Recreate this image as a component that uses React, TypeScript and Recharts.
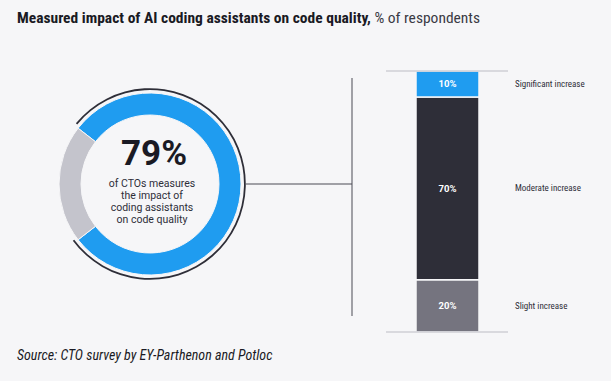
import React from "react";
import { PieChart, Pie, Cell, BarChart, Bar, XAxis, YAxis, LabelList, ReferenceLine } from "recharts";

const donutNames = ["Measure impact", "Do not measure"];
const donutValues = [79, 21];
const donutColors = ["#1f9cf0", "#c4c4cc"];
const outlineColors = ["#2e2e38", "none"];

const segmentKeys = ["slight", "moderate", "significant"];
const segmentLabels = ["Slight increase", "Moderate increase", "Significant increase"];
const segmentValues = [20, 70, 10];
const segmentColors = ["#75747f", "#2e2e38", "#1f9cf0"];

const BG = "#f6f6f8";
const NARROW = "'Liberation Sans Narrow', 'Roboto Condensed', Roboto, sans-serif";
const WIDE = "Roboto, 'Noto Sans', sans-serif";

const donutData = donutNames.map((name, i) => ({ name, value: donutValues[i] }));
const outlineData = donutNames.map((name, i) => ({ label: name + " outline", share: donutValues[i] }));
const barRow: Record<string, number | string> = { name: "CTOs" };
segmentKeys.forEach((k, i) => (barRow[k] = segmentValues[i]));
const barData = [barRow];

// gray slice centred on the left side
const total = donutValues[0] + donutValues[1];
const grayShare = donutValues[1] / total;
const startAngle = 180 - (grayShare * 360) / 2 - (1 - grayShare) * 360;

const CX = 150;
const CY = 184;
const RING_R = 95;

function sideLabel(text: string) {
  return (props: any) => {
    const { x, y, width, height } = props;
    return (
      <text x={x + width + 36} y={y + height / 2} dy={3} fontSize={9} fill="#2e2e38" fontFamily={NARROW}>
        {text}
      </text>
    );
  };
}

export default function App() {
  return (
    <div style={{ position: "absolute", left: 0, top: 0, width: 611, height: 381, background: BG, fontFamily: NARROW }}>
      <div style={{ position: "absolute", left: 17, top: 9, fontSize: 15.5, color: "#1a1a24", whiteSpace: "nowrap" }}>
        <b>Measured impact of AI coding assistants on code quality,</b>
        <span style={{ color: "#3a3a44" }}> % of respondents</span>
      </div>

      <div style={{ position: "absolute", left: 0, top: 34, width: 300, height: 300 }}>
        <PieChart width={300} height={300}>
          <Pie
            data={donutData}
            dataKey="value"
            nameKey="name"
            cx={CX - 5}
            cy={CY - 34 - 5}
            innerRadius={69}
            outerRadius={91}
            startAngle={startAngle}
            endAngle={startAngle + 360}
            stroke={BG}
            strokeWidth={1}
            isAnimationActive={false}
          >
            {donutData.map((d, i) => (
              <Cell key={d.name} fill={donutColors[i]} />
            ))}
          </Pie>
          {/* thin outline around the blue share */}
          <Pie
            data={outlineData}
            dataKey="share"
            nameKey="label"
            cx={CX - 5}
            cy={CY - 34 - 5}
            innerRadius={RING_R - 1}
            outerRadius={RING_R + 0.8}
            startAngle={startAngle - 1.5}
            endAngle={startAngle + 358.5}
            stroke="none"
            isAnimationActive={false}
          >
            {outlineData.map((d, i) => (
              <Cell key={d.label} fill={outlineColors[i]} />
            ))}
          </Pie>
        </PieChart>
      </div>

      <div style={{ position: "absolute", left: 90, top: 135, width: 124, textAlign: "center", color: "#1a1a24" }}>
        <div style={{ fontSize: 35, fontWeight: 700, lineHeight: "38px", fontFamily: WIDE, paddingLeft: 4 }}>{donutValues[0]}%</div>
        <div style={{ fontSize: 10.5, lineHeight: "12px", marginTop: 5, color: "#2e2e38", fontFamily: WIDE }}>
          of CTOs measures
          <br />
          the impact of
          <br />
          coding assistants
          <br />
          on code quality
        </div>
      </div>

      <svg width={611} height={381} style={{ position: "absolute", left: 0, top: 0, pointerEvents: "none" }}>
        <line x1={CX + RING_R + 1} y1={CY} x2={352} y2={CY} stroke="#4a4a54" strokeWidth={1} />
        <line x1={352} y1={78} x2={352} y2={316} stroke="#4a4a54" strokeWidth={1} />
      </svg>

      <div style={{ position: "absolute", left: 386, top: 61 }}>
        <BarChart width={223} height={281} data={barData} margin={{ top: 10, right: 101, bottom: 10, left: 0 }}>
          <XAxis dataKey="name" hide />
          <YAxis hide domain={[0, 100]} />
          <ReferenceLine y={0} stroke="#cfcfd6" strokeWidth={1.5} />
          <ReferenceLine y={100} stroke="#cfcfd6" strokeWidth={1.5} />
          {segmentKeys.map((k, i) => (
            <Bar
              key={k}
              dataKey={k}
              stackId="a"
              barSize={63}
              fill={segmentColors[i]}
              stroke={BG}
              strokeWidth={1.5}
              isAnimationActive={false}
            >
              <LabelList
                dataKey={k}
                position="center"
                formatter={(v: any) => `${v}%`}
                fill="#ffffff"
                fontSize={9.5}
                fontWeight={700}
                fontFamily={WIDE}
              />
              <LabelList dataKey={k} content={sideLabel(segmentLabels[i])} />
            </Bar>
          ))}
        </BarChart>
      </div>

      <div style={{ position: "absolute", left: 17, top: 347, fontSize: 14, fontStyle: "italic", color: "#1a1a24" }}>
        Source: CTO survey by EY-Parthenon and Potloc
      </div>
    </div>
  );
}
